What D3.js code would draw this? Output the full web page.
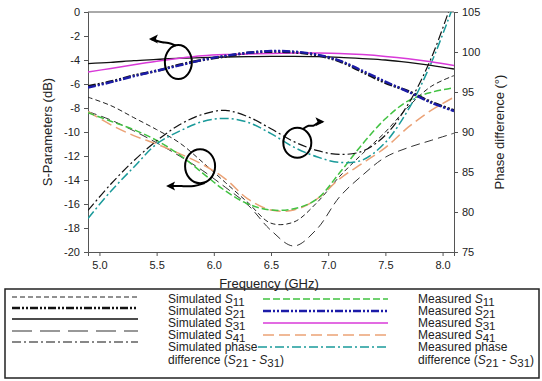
<!DOCTYPE html>
<html>
<head>
<meta charset="utf-8">
<script src="https://cdn.jsdelivr.net/npm/d3@7"></script>
<style>
  body { margin: 0; background: #fff; }
  svg { font-family: "Liberation Sans", Arial, sans-serif; }
  .tick text { font-size: 11px; fill: #222; }
  .tick line, .domain { stroke: #555; }
</style>
</head>
<body>
<div id="chart"></div>
<script>
// ============ data ============
var freq = [4.9, 5.1, 5.3, 5.5, 5.7, 5.9, 6.1, 6.3, 6.5, 6.7, 6.9, 7.1, 7.3, 7.5, 7.7, 7.9, 8.1];

// S-parameters (dB), left axis
var simS11  = [-7.1, -7.8, -8.8, -9.8, -10.9, -12.5, -14.2, -15.9, -17.6, -17.5, -15.9, -13.7, -11.8, -10.0, -7.9, -6.2, -5.3];
var simS21  = [-6.2, -5.8, -5.3, -4.9, -4.4, -4.0, -3.7, -3.4, -3.3, -3.35, -3.6, -4.1, -5.0, -5.9, -6.6, -7.5, -8.2];
var simS31  = [-4.3, -4.2, -4.05, -3.95, -3.85, -3.8, -3.75, -3.72, -3.7, -3.7, -3.72, -3.78, -3.88, -4.0, -4.2, -4.45, -4.75];
var simS41  = [-8.3, -9.0, -9.9, -10.9, -12.0, -13.2, -14.6, -16.1, -18.2, -19.5, -18.1, -15.4, -13.6, -12.1, -11.3, -10.7, -10.1];
var measS11 = [-8.4, -9.1, -9.8, -10.7, -11.9, -13.4, -14.9, -16.0, -16.5, -16.4, -15.6, -13.4, -11.0, -8.9, -7.4, -6.7, -6.3];
var measS21 = [-6.3, -5.85, -5.35, -4.9, -4.45, -4.0, -3.65, -3.4, -3.25, -3.3, -3.55, -4.05, -4.9, -5.8, -6.65, -7.55, -8.25];
var measS31 = [-5.0, -4.7, -4.4, -4.1, -3.85, -3.65, -3.55, -3.5, -3.45, -3.42, -3.42, -3.45, -3.55, -3.7, -3.9, -4.15, -4.45];
var measS41 = [-8.3, -9.4, -10.3, -11.0, -11.8, -12.7, -13.9, -15.6, -16.5, -16.5, -15.6, -13.9, -12.6, -11.3, -9.6, -8.2, -7.1];

// phase difference (deg), right axis
var simPhase  = [80.2, 83.5, 86.4, 88.9, 90.9, 92.2, 92.7, 91.9, 90.4, 88.8, 87.7, 87.2, 87.6, 89.6, 93.5, 99.2, 107];
var measPhase = [79.2, 82.6, 85.6, 88.5, 90.1, 91.3, 91.7, 91.2, 89.8, 88.1, 86.9, 86.2, 86.5, 88.7, 92.8, 98.6, 106];

var xTicks = [5.0, 5.5, 6.0, 6.5, 7.0, 7.5, 8.0];
var yLeftTicks = [0, -2, -4, -6, -8, -10, -12, -14, -16, -18, -20];
var yRightTicks = [75, 80, 85, 90, 95, 100, 105];

//============ Set up chart =====================
var svgWidth = 542;
var svgHeight = 381;
var margin = { top: 12, right: 88, bottom: 129, left: 88 };
var width = svgWidth - margin.left - margin.right;
var height = svgHeight - margin.top - margin.bottom;

var svg = d3.select("#chart").append("svg")
  .attr("width", svgWidth)
  .attr("height", svgHeight);

var chartGroup = svg.append("g")
  .attr("transform", `translate(${margin.left}, ${margin.top})`);

var xScale = d3.scaleLinear().domain([4.9, 8.1]).range([0, width]);
var yLeft = d3.scaleLinear().domain([-20, 0]).range([height, 0]);
var yRight = d3.scaleLinear().domain([75, 105]).range([height, 0]);

// clip so steep phase curves stop at the frame
chartGroup.append("clipPath").attr("id", "clip")
  .append("rect").attr("width", width).attr("height", height);

// axes
chartGroup.append("g")
  .attr("transform", `translate(0, ${height})`)
  .call(d3.axisBottom(xScale).tickValues(xTicks).tickFormat(d3.format(".1f")).tickSizeOuter(0).tickSize(4).tickPadding(5));
chartGroup.append("g")
  .call(d3.axisLeft(yLeft).tickValues(yLeftTicks).tickFormat(d => String(d)).tickSizeOuter(0).tickSize(4).tickPadding(4));
chartGroup.append("g")
  .attr("transform", `translate(${width}, 0)`)
  .call(d3.axisRight(yRight).tickValues(yRightTicks).tickSizeOuter(0).tickSize(4).tickPadding(4));
chartGroup.append("line")
  .attr("x1", 0).attr("x2", width).attr("y1", 0).attr("y2", 0)
  .attr("stroke", "#555");

// series
var series = [
  { vals: simS11,   axis: yLeft,  color: "#222",    w: 1,   dash: "5,3" },
  { vals: simS41,   axis: yLeft,  color: "#333",    w: 1,   dash: "9,5" },
  { vals: measS41,  axis: yLeft,  color: "#eba276", w: 1.5, dash: "11,5" },
  { vals: measS11,  axis: yLeft,  color: "#42c242", w: 1.5, dash: "7,3" },
  { vals: simPhase, axis: yRight, color: "#111",    w: 1.2, dash: "9,3,2,3" },
  { vals: measPhase,axis: yRight, color: "#1a9a9a", w: 1.5, dash: "9,3,2,3" },
  { vals: simS31,   axis: yLeft,  color: "#111",    w: 1.3, dash: null },
  { vals: measS31,  axis: yLeft,  color: "#d83ad8", w: 1.5, dash: null },
  { vals: simS21,   axis: yLeft,  color: "#111",    w: 2.6, dash: "8,2,2,2,2,2" },
  { vals: measS21,  axis: yLeft,  color: "#1c1ca8", w: 2.4, dash: "8,2,2,2,2,2" }
];

var plot = chartGroup.append("g").attr("clip-path", "url(#clip)");
series.forEach(function(s) {
  var line = d3.line()
    .x((d, i) => xScale(freq[i]))
    .y(d => s.axis(d))
    .curve(d3.curveCatmullRom);
  plot.append("path")
    .datum(s.vals)
    .attr("d", line)
    .attr("fill", "none")
    .attr("stroke", s.color)
    .attr("stroke-width", s.w)
    .attr("stroke-dasharray", s.dash);
});

// annotation circles with arrows
var marks = [
  { f: 5.69, v: -4.17, rx: 13.5, ry: 17,
    arrow: [[5.67, -2.8], [5.6, -2.55], [5.55, -2.55], [5.5, -2.4], [5.45, -2.25]], dir: "left" },
  { f: 5.88, v: -12.85, rx: 15, ry: 17,
    arrow: [[5.92, -14.25], [5.83, -14.55], [5.72, -14.5], [5.6, -14.5]], dir: "left" },
  { f: 6.73, v: -10.9, rx: 14, ry: 15,
    arrow: [[6.78, -9.75], [6.83, -9.4], [6.87, -9.55], [6.9, -9.25], [6.95, -9.15]], dir: "right" }
];
var arrowLine = d3.line().x(d => xScale(d[0])).y(d => yLeft(d[1])).curve(d3.curveBasis);
marks.forEach(function(m) {
  chartGroup.append("ellipse")
    .attr("cx", xScale(m.f)).attr("cy", yLeft(m.v))
    .attr("rx", m.rx).attr("ry", m.ry)
    .attr("fill", "none").attr("stroke", "#000").attr("stroke-width", 2);
  chartGroup.append("path")
    .attr("d", arrowLine(m.arrow))
    .attr("fill", "none").attr("stroke", "#000").attr("stroke-width", 2);
  var tip = m.arrow[m.arrow.length - 1];
  var tx = xScale(tip[0]), ty = yLeft(tip[1]);
  var s = m.dir === "left" ? 1 : -1;
  chartGroup.append("path")
    .attr("d", `M${tx - s * 2},${ty} L${tx + s * 7},${ty - 4.5} L${tx + s * 5},${ty} L${tx + s * 7},${ty + 4.5} Z`)
    .attr("fill", "#000");
});

// axis titles
svg.append("text")
  .attr("transform", `translate(47, ${margin.top + height / 2}) rotate(-90)`)
  .attr("text-anchor", "middle").attr("dominant-baseline", "central")
  .attr("font-size", 13).attr("fill", "#222")
  .text("S-Parameters (dB)");
svg.append("text")
  .attr("transform", `translate(499, ${margin.top + height / 2}) rotate(-90)`)
  .attr("text-anchor", "middle").attr("dominant-baseline", "central")
  .attr("font-size", 13).attr("fill", "#222")
  .text("Phase difference (°)");
svg.append("text")
  .attr("x", margin.left + width / 2 - 2).attr("y", 288)
  .attr("text-anchor", "middle")
  .attr("font-size", 13).attr("fill", "#222")
  .text("Frequency (GHz)");

//============ legend =========
var legend = svg.append("g");
legend.append("rect")
  .attr("x", 5).attr("y", 289).attr("width", 534).attr("height", 89)
  .attr("fill", "none").attr("stroke", "#222").attr("stroke-width", 1.5);

var legSim = [series[0], series[8], series[6], series[1], series[4]];
var legMeas = [series[3], series[9], series[7], series[2], series[5]];
var legSub = ["11", "21", "31", "41"];
var simSampleY = [297, 308, 319, 331, 342];
var rowY = [303, 315, 327, 339, 351, 364];

legSim.forEach(function(s, i) {
  legend.append("line")
    .attr("x1", 12).attr("x2", 138).attr("y1", simSampleY[i]).attr("y2", simSampleY[i])
    .attr("stroke-width", i === 3 ? 1.3 : s.w)
    .attr("stroke-dasharray", i === 3 ? "20,8" : s.dash)
    .attr("stroke", i === 3 ? "#777" : s.color);
});
legMeas.forEach(function(s, i) {
  legend.append("line")
    .attr("x1", i === 4 ? 258 : 263).attr("x2", 388).attr("y1", rowY[i] - 4).attr("y2", rowY[i] - 4)
    .attr("stroke", s.color).attr("stroke-width", s.w)
    .attr("stroke-dasharray", s.dash);
});

function sLabel(x, y, prefix, sub) {
  var t = legend.append("text").attr("x", x).attr("y", y)
    .attr("font-size", 12).attr("fill", "#222");
  t.append("tspan").text(prefix);
  t.append("tspan").attr("font-style", "italic").text("S");
  t.append("tspan").attr("dy", 2.5).attr("font-size", 11.5).text(sub);
}
function phaseLabel(x, prefix) {
  legend.append("text").attr("x", x).attr("y", rowY[4])
    .attr("font-size", 12).attr("fill", "#222").text(prefix + " phase");
  var t = legend.append("text").attr("x", x).attr("y", rowY[5])
    .attr("font-size", 12).attr("fill", "#222");
  t.append("tspan").text("difference (");
  t.append("tspan").attr("font-style", "italic").text("S");
  t.append("tspan").attr("dy", 2.5).attr("font-size", 11.5).text("21");
  t.append("tspan").attr("dy", -2.5).text(" - ");
  t.append("tspan").attr("font-style", "italic").text("S");
  t.append("tspan").attr("dy", 2.5).attr("font-size", 11.5).text("31");
  t.append("tspan").attr("dy", -2.5).text(")");
}
legSub.forEach(function(sub, i) {
  sLabel(168, rowY[i], "Simulated ", sub);
  sLabel(418, rowY[i], "Measured ", sub);
});
phaseLabel(168, "Simulated");
phaseLabel(418, "Measured");
</script>
</body>
</html>
